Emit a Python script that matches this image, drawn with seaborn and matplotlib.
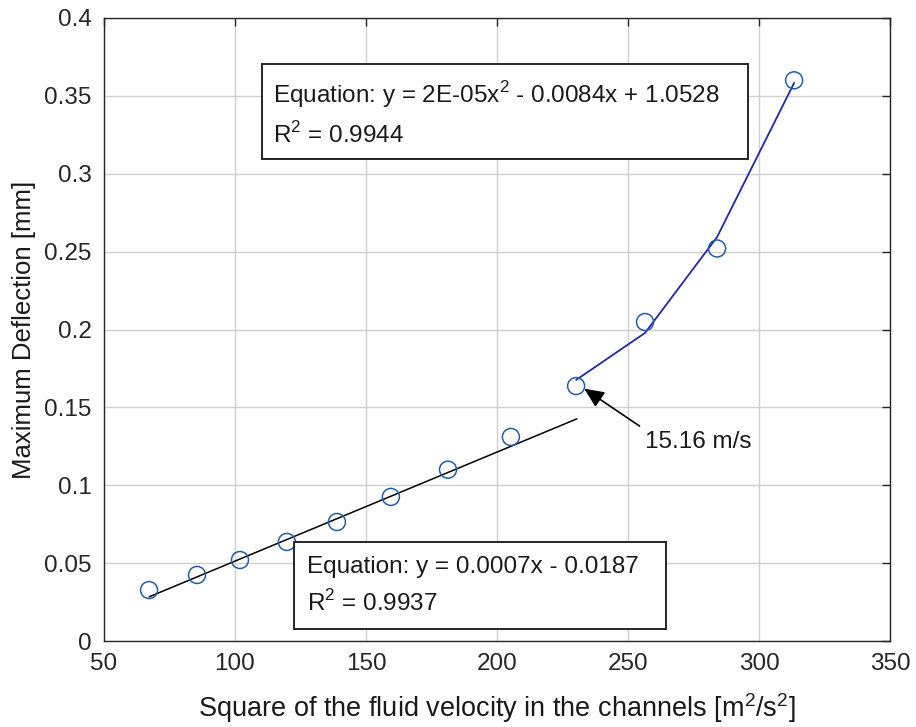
import numpy as np
import pandas as pd
import seaborn as sns
import matplotlib
matplotlib.use("Agg")
import matplotlib.pyplot as plt
from matplotlib.patches import Rectangle

# Data
velocity_sq = [67.2, 85.5, 101.9, 119.8, 138.9, 159.5, 181.3, 205.3, 230.2, 256.5, 284.0, 313.4]
deflection = [0.0327, 0.0424, 0.052, 0.0636, 0.0764, 0.0925, 0.110, 0.131, 0.1637, 0.2048, 0.252, 0.360]

# Linear fit segment (y = 0.0007x - 0.0187), endpoints
lin_x = [67.2, 230.5]
lin_slope = 0.0007
lin_intercept = -0.0187

# Quadratic fit values at the high-velocity points
quad_x = [230.2, 256.5, 284.0, 313.4]
quad_y = [0.1676, 0.1978, 0.2594, 0.3583]

eq1_lines = ["Equation: y = 2E-05x$^{2}$ - 0.0084x + 1.0528", "R$^{2}$ = 0.9944"]
eq2_lines = ["Equation: y = 0.0007x - 0.0187", "R$^{2}$ = 0.9937"]
annot_text = "15.16 m/s"

sns.set_theme(style="white")
plt.rcParams['font.family'] = ['Liberation Sans', 'DejaVu Sans']
plt.rcParams['mathtext.fontset'] = 'custom'
plt.rcParams['mathtext.rm'] = 'Liberation Sans'

fig = plt.figure(figsize=(9.16, 7.27), dpi=100)
ax = fig.add_axes([104/916, 1-641/727, (890-104)/916, (641-18)/727])

df = pd.DataFrame({"x": velocity_sq, "y": deflection})
lin_df = pd.DataFrame({"x": lin_x, "y": [lin_slope*v + lin_intercept for v in lin_x]})
quad_df = pd.DataFrame({"x": quad_x, "y": quad_y})

sns.lineplot(data=lin_df, x="x", y="y", ax=ax, color="black", lw=1.1, zorder=3)
sns.lineplot(data=quad_df, x="x", y="y", ax=ax, color="#2424b0", lw=1.3, zorder=3)
sns.scatterplot(data=df, x="x", y="y", ax=ax, marker="o", s=150, facecolors="none",
                edgecolor="#1f5fa8", linewidth=1.1, zorder=4)

ax.set_xlim(50, 350)
ax.set_ylim(0, 0.4)
ax.set_xticks(np.arange(50, 351, 50))
ax.set_yticks(np.arange(0, 0.401, 0.05))
ax.set_yticklabels(["0", "0.05", "0.1", "0.15", "0.2", "0.25", "0.3", "0.35", "0.4"])
ax.grid(True, color="#d0d0d0", lw=1.0)
ax.set_axisbelow(True)
for s in ax.spines.values():
    s.set_color("#262626")
    s.set_linewidth(1.0)
ax.tick_params(direction="in", length=6, width=1, top=True, right=True,
               labelsize=17.5, colors="#262626", pad=9)

ax.set_xlabel("Square of the fluid velocity in the channels [m$^{2}$/s$^{2}$]", fontsize=19.5,
              color="#1a1a1a", labelpad=11)
ax.set_ylabel("Maximum Deflection [mm]", fontsize=18.5, color="#1a1a1a", labelpad=6)

# Text boxes (MATLAB-style fixed-size annotation boxes)
ax.add_patch(Rectangle((0.2010, 0.7737), 0.8193-0.2010, 0.9262-0.7737, transform=ax.transAxes,
                       facecolor="white", edgecolor="#262626", lw=1.4, zorder=5))
ax.text(0.2150, 0.8764, eq1_lines[0], transform=ax.transAxes, fontsize=17.5, va="center",
        ha="left", color="#1a1a1a", zorder=6)
ax.text(0.2150, 0.8122, eq1_lines[1], transform=ax.transAxes, fontsize=17.5, va="center",
        ha="left", color="#1a1a1a", zorder=6)

ax.add_patch(Rectangle((0.2417, 0.0193), 0.7150-0.2417, 0.1589-0.0193, transform=ax.transAxes,
                       facecolor="white", edgecolor="#262626", lw=1.4, zorder=5))
ax.text(0.2583, 0.1188, eq2_lines[0], transform=ax.transAxes, fontsize=17.5, va="center",
        ha="left", color="#1a1a1a", zorder=6)
ax.text(0.2583, 0.0610, eq2_lines[1], transform=ax.transAxes, fontsize=17.5, va="center",
        ha="left", color="#1a1a1a", zorder=6)

ax.annotate("", xy=(232.4, 0.163), xytext=(255.3, 0.137),
            arrowprops=dict(arrowstyle="-|>,head_length=1.0,head_width=0.45",
                            color="black", lw=1.2), zorder=5)
ax.text(256.5, 0.128, annot_text, fontsize=17.5, va="center", ha="left", color="#1a1a1a")

fig.savefig("out.png", dpi=100)
